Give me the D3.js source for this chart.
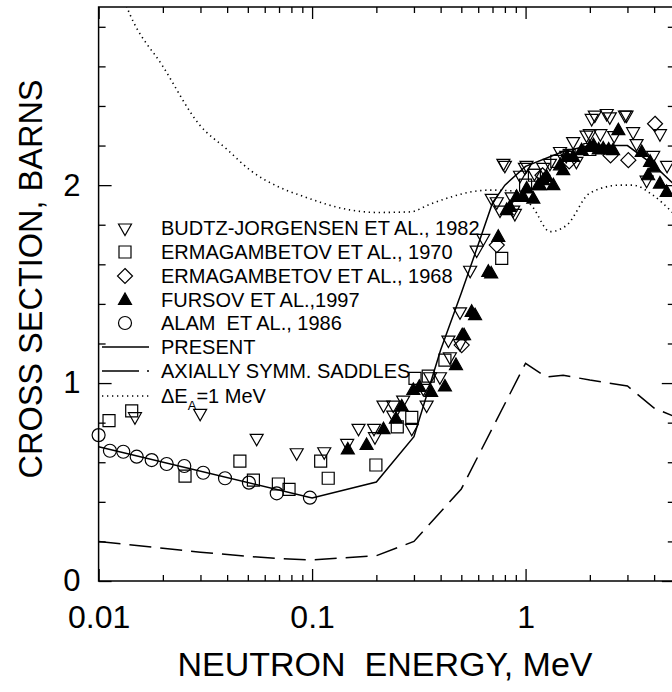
<!DOCTYPE html>
<html>
<head>
<meta charset="utf-8">
<script src="https://cdn.jsdelivr.net/npm/d3@7"></script>
<style>
body{margin:0;background:#fff;}
text{font-family:"Liberation Sans",Arial,sans-serif;fill:#000;}
</style>
</head>
<body>
<div id="chart"></div>
<script>
// experimental points [energy MeV, cross section b]
var budtz = [[0.0148,0.83],[0.0299,0.847],[0.055,0.721],[0.0847,0.648],[0.114,0.653],[0.146,0.695],[0.165,0.771],
  [0.195,0.771],[0.197,0.729],[0.216,0.889],[0.24,0.889],[0.24,0.838],[0.267,0.914],[0.293,0.771],[0.332,0.973],
  [0.344,0.889],[0.357,1.032],[0.397,1.032],[0.435,1.217],[0.442,1.133],[0.493,1.2],[0.493,1.36],[0.55,1.57],
  [0.59,1.672],[0.634,1.731],[0.694,1.933],[0.733,1.916],[0.759,1.874],[0.787,2.11],[0.8,2.1],[0.861,1.941],
  [0.875,1.874],[0.891,1.857],[0.942,2.05],[0.993,2.09],[1.01,2.1],[1.1,2.06],[1.21,2.09],[1.3,2.11],[1.45,2.17],
  [1.55,2.15],[1.67,2.22],[1.73,2.12],[1.93,2.253],[2.0,2.26],[2.04,2.337],[2.11,2.354],[2.24,2.26],[2.4,2.362],
  [2.48,2.345],[2.6,2.25],[2.92,2.354],[2.97,2.354],[3.19,2.27],[3.31,2.21],[3.69,2.025],[3.96,2.15],[4.26,2.26],[4.6,2.1]];
var erm1970 = [[0.01119,0.81],[0.01429,0.86],[0.0254,0.53],[0.0459,0.606],[0.0531,0.51],[0.0695,0.49],[0.078,0.463],
  [0.1097,0.606],[0.119,0.519],[0.199,0.586],[0.2506,0.779],[0.293,0.827],[0.3034,1.024],[0.35,1.035],[0.419,1.116],
  [0.773,1.63],[1.0,2.0],[1.1,2.05],[1.4,2.12],[1.6,2.15],[2.0,2.18]];
var erm1968 = [[0.502,1.192],[0.733,1.697],[1.2,2.05],[1.6,2.12],[2.5,2.15],[3.03,2.126],[4.04,2.31]];
var fursov = [[0.147,0.665],[0.18,0.687],[0.216,0.767],[0.247,0.82],[0.263,0.882],[0.298,0.965],[0.318,0.981],
  [0.361,0.956],[0.419,0.983],[0.472,1.091],[0.505,1.242],[0.515,1.242],[0.559,1.36],[0.58,1.343],[0.669,1.562],
  [0.69,1.554],[0.745,1.739],[0.816,1.874],[0.845,1.89],[0.908,1.941],[0.975,1.941],[1.012,1.983],[1.087,1.932],
  [1.147,2.0],[1.167,2.0],[1.21,2.025],[1.256,2.042],[1.349,2.0],[1.45,2.1],[1.5,2.076],[1.56,2.143],[1.67,2.143],
  [1.83,2.177],[2.0,2.193],[2.08,2.202],[2.2,2.18],[2.31,2.185],[2.45,2.18],[2.57,2.177],[2.72,2.278],[3.5,2.168],
  [3.83,2.118],[3.75,2.05],[4.0,2.09],[4.26,2.008],[4.58,1.966]];
var alam = [[0.01,0.737],[0.0113,0.658],[0.01305,0.653],[0.01508,0.628],[0.01773,0.611],[0.02084,0.591],
  [0.0252,0.581],[0.0309,0.547],[0.0391,0.519],[0.0506,0.497],[0.0683,0.443],[0.0977,0.421]];

// calculated curves
var present = [[0.01,0.678],[0.1,0.42],[0.2,0.5],[0.3,0.729],[0.4,1.167],[0.5,1.455],[0.6,1.7],[0.7,1.91],
  [0.8,2.0],[1.0,2.095],[1.5,2.17],[2.0,2.2],[3.0,2.2],[4.0,2.1],[5.0,2.0]];
var axialSaddles = [[0.01,0.2],[0.02,0.165],[0.03,0.145],[0.05,0.125],[0.07,0.113],[0.1,0.106],[0.2,0.128],
  [0.3,0.2],[0.5,0.465],[1.0,1.1],[1.25,1.03],[1.5,1.04],[2.0,1.015],[3.0,0.985],[4.0,0.874],[5.0,0.83]];
var deltaEA = [[0.0125,3.0],[0.014,2.864],[0.02,2.6],[0.0298,2.303],[0.04,2.18],[0.0512,2.076],[0.07,1.99],
  [0.0878,1.949],[0.15,1.875],[0.2,1.862],[0.29,1.865],[0.35,1.9],[0.444,1.939],[0.55,1.965],[0.68,1.975],
  [0.89,1.97],[1.08,1.889],[1.3,1.765],[1.56,1.798],[2.0,1.96],[2.77,2.0],[3.18,2.0],[3.95,1.949],[4.75,1.874],[5.0,1.85]];

var xMajor = [0.01,0.1,1];
var yMajor = [0,1,2];

var margin = {top: 7, left: 98.6},
    width = 576.2,
    height = 574;

var svg = d3.select("#chart").append("svg")
    .attr("width", 672)
    .attr("height", 692);

var x = d3.scaleLog().domain([0.01, 5]).range([margin.left, margin.left + width]);
var y = d3.scaleLinear().domain([0, 2.9]).range([margin.top + height, margin.top]);

svg.append("defs").append("clipPath").attr("id","plotClip")
    .append("rect")
    .attr("x", x(0.01)).attr("y", y(2.9))
    .attr("width", width).attr("height", height);

//ticks
var xMinor = x.ticks().filter(function(d){ return xMajor.indexOf(d) < 0; });
var yMinor = d3.range(0, 2.9, 0.2).filter(function(d){ return Math.abs(d - Math.round(d)) > 0.01; });

function noDomain(g){ g.select(".domain").remove(); g.selectAll("line").attr("stroke","#000").attr("stroke-width",1.3); }

svg.append("g").attr("transform","translate(0," + y(0) + ")")
    .call(d3.axisBottom(x).tickValues(xMinor).tickSize(-6).tickFormat(""))
    .call(noDomain);
svg.append("g").attr("transform","translate(0," + y(0) + ")")
    .call(d3.axisBottom(x).tickValues(xMajor).tickSize(-12).tickPadding(24).tickFormat(function(d){ return d; }))
    .call(noDomain)
    .selectAll("text").style("font-size","32px").attr("fill","#000");
svg.append("g").attr("transform","translate(0," + y(2.9) + ")")
    .call(d3.axisTop(x).tickValues(xMinor).tickSize(-6).tickFormat(""))
    .call(noDomain);
svg.append("g").attr("transform","translate(0," + y(2.9) + ")")
    .call(d3.axisTop(x).tickValues(xMajor).tickSize(-12).tickFormat(""))
    .call(noDomain);

svg.append("g").attr("transform","translate(" + x(0.01) + ",0)")
    .call(d3.axisLeft(y).tickValues(yMinor).tickSize(-7).tickFormat(""))
    .call(noDomain);
svg.append("g").attr("transform","translate(" + x(0.01) + ",0)")
    .call(d3.axisLeft(y).tickValues(yMajor).tickSize(-13).tickPadding(18).tickFormat(d3.format("d")))
    .call(noDomain)
    .selectAll("text").style("font-size","31px").attr("fill","#000");
svg.append("g").attr("transform","translate(" + x(5) + ",0)")
    .call(d3.axisRight(y).tickValues(yMinor).tickSize(-7).tickFormat(""))
    .call(noDomain);
svg.append("g").attr("transform","translate(" + x(5) + ",0)")
    .call(d3.axisRight(y).tickValues(yMajor).tickSize(-13).tickFormat(""))
    .call(noDomain);

//frame
svg.append("rect")
    .attr("x", x(0.01)).attr("y", y(2.9))
    .attr("width", width).attr("height", height)
    .attr("fill","none").attr("stroke","#000").attr("stroke-width",1.5);

//axis titles
svg.append("text")
    .attr("transform","translate(42,279) rotate(-90)")
    .attr("text-anchor","middle")
    .style("font-size","32.5px")
    .text("CROSS SECTION, BARNS");

svg.append("text")
    .attr("x", 385).attr("y", 676)
    .attr("text-anchor","middle")
    .style("font-size","34px")
    .attr("xml:space","preserve")
    .text("NEUTRON  ENERGY, MeV");

//curves
var line = d3.line()
    .x(function(d){ return x(d[0]); })
    .y(function(d){ return y(d[1]); });
var smooth = d3.line()
    .x(function(d){ return x(d[0]); })
    .y(function(d){ return y(d[1]); })
    .curve(d3.curveMonotoneX);

var curves = svg.append("g").attr("clip-path","url(#plotClip)");
curves.append("path").datum(present).attr("d", line)
    .attr("fill","none").attr("stroke","#000").attr("stroke-width",1.5);
curves.append("path").datum(axialSaddles).attr("d", line)
    .attr("fill","none").attr("stroke","#000").attr("stroke-width",1.5)
    .attr("stroke-dasharray","22,9");
curves.append("path").datum(deltaEA).attr("d", smooth)
    .attr("fill","none").attr("stroke","#000").attr("stroke-width",1.6)
    .attr("stroke-dasharray","1.3,3.7");

//marker shapes
var shapes = {
    triDown: "M-6.5,-4L6.5,-4L0,7.5Z",
    square: "M-6,-6L6,-6L6,6L-6,6Z",
    diamond: "M0,-7.5L7.5,0L0,7.5L-7.5,0Z",
    triUp: "M-6.5,4.5L6.5,4.5L0,-7Z",
    circle: "M6.5,0A6.5,6.5 0 1,1 -6.5,0A6.5,6.5 0 1,1 6.5,0Z"
};

var series = [
    {data: budtz, shape: "triDown", filled: false, label: "BUDTZ-JORGENSEN ET AL., 1982"},
    {data: erm1970, shape: "square", filled: false, label: "ERMAGAMBETOV ET AL., 1970"},
    {data: erm1968, shape: "diamond", filled: false, label: "ERMAGAMBETOV ET AL., 1968"},
    {data: fursov, shape: "triUp", filled: true, label: "FURSOV ET AL.,1997"},
    {data: alam, shape: "circle", filled: false, label: "ALAM  ET AL., 1986"}
];

series.forEach(function(s){
    svg.append("g").selectAll("path")
        .data(s.data)
        .enter().append("path")
        .attr("d", shapes[s.shape])
        .attr("transform", function(d){ return "translate(" + x(d[0]) + "," + y(d[1]) + ")"; })
        .attr("fill", s.filled ? "#000" : "none")
        .attr("stroke","#000")
        .attr("stroke-width",1.2);
});

//legend
var legend = svg.append("g");
var rowY = [228, 252, 276, 300, 323, 347, 371, 396];
series.forEach(function(s, i){
    legend.append("path")
        .attr("d", shapes[s.shape])
        .attr("transform","translate(125," + rowY[i] + ")")
        .attr("fill", s.filled ? "#000" : "none")
        .attr("stroke","#000").attr("stroke-width",1.2);
    legend.append("text")
        .attr("x",161).attr("y",rowY[i] + 7)
        .attr("xml:space","preserve")
        .style("font-size","20px")
        .text(s.label);
});

var lineItems = [
    {label: "PRESENT", dash: null},
    {label: "AXIALLY SYMM. SADDLES", dash: "37,8,2,20"},
    {label: null, dash: "1.3,3.7"}
];
lineItems.forEach(function(l, j){
    var ry = rowY[5 + j];
    legend.append("line")
        .attr("x1",102).attr("x2",149).attr("y1",ry).attr("y2",ry)
        .attr("stroke","#000").attr("stroke-width",1.5)
        .attr("stroke-dasharray", l.dash);
    if (l.label){
        legend.append("text")
            .attr("x",161).attr("y",ry + 7)
            .style("font-size","20px")
            .text(l.label);
    }
});
var dE = legend.append("text")
    .attr("x",161).attr("y",rowY[7] + 7)
    .style("font-size","20px");
dE.append("tspan").text("\u0394E");
dE.append("tspan").attr("dy",7).style("font-size","13px").text("A");
dE.append("tspan").attr("dy",-7).text("=1 MeV");
</script>
</body>
</html>
